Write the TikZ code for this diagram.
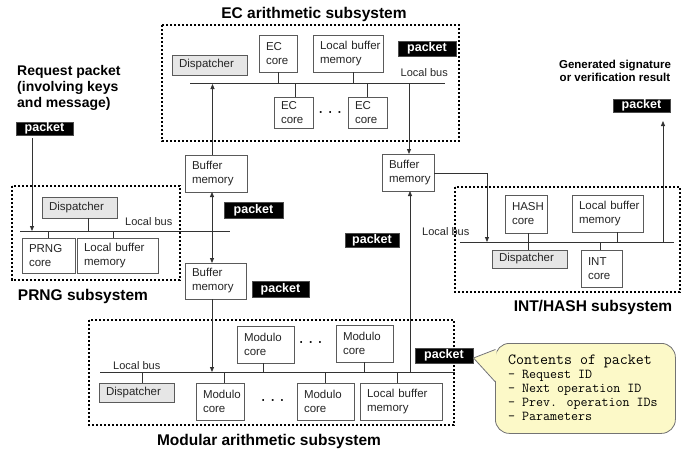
\documentclass[tikz,border=0pt]{standalone}
\usepackage{fontspec}
\setmainfont{Liberation Sans}
\usetikzlibrary{arrows.meta}

\definecolor{dispgray}{RGB}{230,230,230}
\definecolor{noteyellow}{RGB}{252,249,200}
\definecolor{boxline}{RGB}{90,90,90}

\begin{document}
\begin{tikzpicture}[x=1pt,y=-1pt,
  unit/.style={draw=boxline, line width=0.8pt, fill=white, text=black!85,
    inner xsep=7pt, inner ysep=0pt, outer sep=0pt, align=left, anchor=north west,
    font=\fontsize{11.5}{14}\selectfont},
  disp/.style={unit, fill=dispgray},
  pkt/.style={fill=black, draw=black!70, text=white, inner sep=0pt, outer sep=0pt,
    anchor=north west, font=\fontsize{12.5}{12.5}\selectfont\bfseries},
  subsys/.style={draw=black, line width=2.4pt, dash pattern=on 2.2pt off 1.8pt},
  title/.style={anchor=base, inner sep=0pt, font=\fontsize{15.5}{17}\selectfont\bfseries},
  buslabel/.style={anchor=base west, inner sep=0pt, text=black!85, font=\fontsize{11}{13}\selectfont},
  bus/.style={line width=0.8pt, draw=black!80},
  wire/.style={line width=0.8pt, draw=black!80},
  arr/.style={wire, -{Triangle[length=5pt,width=4pt]}},
  dots/.style={inner sep=0pt, font=\fontsize{12}{12}\selectfont\bfseries},
  mono/.style={anchor=base west, inner sep=0pt, font=\ttfamily}
]
\useasboundingbox (0,0) rectangle (691,450);

% ---------- subsystem frames ----------
\draw[subsys] (162,25) rectangle (459,141);
\draw[subsys] (12,186) rectangle (180,280);
\draw[subsys] (455,187) rectangle (680,292);
\draw[subsys] (89,320) rectangle (454,425);

\node[title] (ectitle) at (314,18.5) {EC arithmetic subsystem};
\node[title] (prtitle) at (83,300.5) {PRNG subsystem};
\node[title] (inttitle) at (593,311.5) {INT/HASH subsystem};
\node[title] (modtitle) at (269,445.5) {Modular arithmetic subsystem};

% ---------- buses ----------
\coordinate (ecbusW) at (190,83);   \coordinate (ecbusE) at (445,83);
\coordinate (prbusW) at (20,231);   \coordinate (prbusE) at (230,231);
\coordinate (intbusW) at (460,242); \coordinate (intbusE) at (674,242);
\coordinate (modbusW) at (100,372); \coordinate (modbusE) at (455,372);
\coordinate (intin) at (487,242);
\draw[bus] (ecbusW) -- (ecbusE);
\draw[bus] (prbusW) -- (prbusE);
\draw[bus] (intbusW) -- (intbusE);
\draw[bus] (modbusW) -- (modbusE);

\node[buslabel] (eclb) at (400.5,76) {Local bus};
\node[buslabel] (prlb) at (125,225) {Local bus};
\node[buslabel] (intlb) at (422,235) {Local bus};
\node[buslabel] (modlb) at (113,369.5) {Local bus};

% ---------- EC arithmetic subsystem ----------
\node[disp, text width=61pt, minimum height=20pt] (ecdisp) at (172,55) {Dispatcher};
\node[unit, text width=24pt, minimum height=37pt] (eccoreA) at (259,35) {EC\\core};
\node[unit, text width=56pt, minimum height=37pt] (eclbm) at (313,35) {Local~buffer\\memory};
\node[unit, text width=25pt, minimum height=31pt] (eccoreB) at (274,97) {EC\\core};
\node[unit, text width=25pt, minimum height=31pt] (eccoreC) at (348,97) {EC\\core};
\node[dots] (ecdots) at (330.5,114) {·\hspace{5.5pt}·\hspace{5.5pt}·};
\node[pkt, minimum width=58pt, minimum height=15pt] (ecpkt) at (398,41) {packet};

\draw[wire] (eccoreA.south) -- (eccoreA.south |- ecbusW);
\draw[wire] ([xshift=5pt]eclbm.south) -- ([xshift=5pt]eclbm.south |- ecbusW);
\draw[wire] ([xshift=1.5pt]eccoreB.north) -- ([xshift=1.5pt]eccoreB.north |- ecbusW);
\draw[wire] (eccoreC.north) -- (eccoreC.north |- ecbusW);

% ---------- buffer memories between subsystems ----------
\node[unit, text width=48pt, minimum height=37pt] (lbufA) at (185,155) {Buffer\\memory};
\node[unit, text width=47pt, minimum height=36pt] (lbufB) at (185,263) {Buffer\\memory};
\node[unit, text width=38pt, minimum height=37pt] (rbuf) at (382,154) {Buffer\\memory};

\node[pkt, minimum width=59pt, minimum height=16pt] (bpktA) at (224,202) {packet};
\node[pkt, minimum width=57pt, minimum height=16pt] (bpktB) at (252,281) {packet};
\node[pkt, minimum width=54pt, minimum height=14pt] (bpktC) at (345,233) {packet};

\draw[arr] ([xshift=-3.5pt]lbufA.north) -- ([xshift=-3.5pt,yshift=-1pt]lbufA.north |- ecbusW);
\draw[arr] ([xshift=1pt]rbuf.north |- ecbusW) -- ([xshift=1pt]rbuf.north);
\draw[wire, {Triangle[length=5pt,width=4pt]}-{Triangle[length=5pt,width=4pt]}]
  ([xshift=-4pt]lbufA.south) -- ([xshift=-3.5pt]lbufB.north);
\draw[arr] ([xshift=-3.5pt]lbufB.south) -- ([xshift=-3.5pt]lbufB.south |- modbusW);
\draw[arr] ([xshift=2pt]rbuf.south |- modbusW) -- ([xshift=2pt]rbuf.south);
\draw[arr] ([yshift=-1pt]rbuf.east) -| (intin);

% ---------- PRNG subsystem ----------
\node[disp, text width=61pt, minimum height=21pt] (prdisp) at (42,197) {Dispatcher};
\node[unit, text width=39pt, minimum height=35pt] (prcore) at (22,238) {PRNG\\core};
\node[unit, text width=67pt, minimum height=35pt] (prlbm) at (77,238) {Local~buffer\\memory};
\draw[wire] ([xshift=8.5pt]prdisp.south) -- ([xshift=8.5pt]prdisp.south |- prbusW);
\draw[wire] (prcore.north) -- (prcore.north |- prbusW);
\draw[wire] ([xshift=-4.5pt]prlbm.north) -- ([xshift=-4.5pt]prlbm.north |- prbusW);

\node[anchor=north west, inner sep=0pt, align=left,
  font=\fontsize{14}{16.2}\selectfont\bfseries] (reqtext) at (17,65)
  {Request packet\\(involving keys\\and message)};
\node[pkt, minimum width=57pt, minimum height=13pt] (reqpkt) at (16,122) {packet};
\draw[arr] ([xshift=-12.5pt,yshift=-3pt]reqpkt.south) -- ([xshift=-12.5pt]reqpkt.south |- prbusW);

% ---------- INT/HASH subsystem ----------
\node[unit, text width=28pt, minimum height=38pt] (hash) at (505,195) {HASH\\core};
\node[unit, text width=57pt, minimum height=37pt] (intlbm) at (572,195) {Local~buffer\\memory};
\node[disp, text width=61pt, minimum height=18pt] (intdisp) at (492,250) {Dispatcher};
\node[unit, text width=27pt, minimum height=37pt] (intcore) at (581,250) {INT\\core};
\draw[wire] ([xshift=2pt]hash.south) -- ([xshift=-1.5pt]intdisp.north);
\draw[wire] ([xshift=9.5pt]intlbm.south) -- ([xshift=9.5pt]intlbm.south |- intbusW);
\draw[wire] ([xshift=-1.5pt]intcore.north) -- ([xshift=-1.5pt]intcore.north |- intbusW);

\node[anchor=north, inner sep=0pt, align=center,
  font=\fontsize{11.5}{13.5}\selectfont\bfseries] (gentext) at (615,59.5)
  {Generated signature\\or verification result};
\node[pkt, minimum width=57pt, minimum height=13pt] (outpkt) at (613,99) {packet};
\draw[arr] ([xshift=21.5pt]outpkt.south |- intbusW) -- ([xshift=21.5pt,yshift=-9pt]outpkt.south);

% ---------- Modular arithmetic subsystem ----------
\node[disp, text width=61pt, minimum height=19pt] (moddisp) at (99,383) {Dispatcher};
\node[unit, text width=34pt, minimum height=37pt] (modB1) at (196,383) {Modulo\\core};
\node[unit, text width=43pt, minimum height=37pt] (modB2) at (297,383) {Modulo\\core};
\node[unit, text width=68pt, minimum height=37pt] (modlbm) at (360,383) {Local~buffer\\memory};
\node[unit, text width=43pt, minimum height=37pt] (modT1) at (237,326) {Modulo\\core};
\node[unit, text width=43pt, minimum height=37pt] (modT2) at (336,325) {Modulo\\core};
\node[dots] (moddotsB) at (273,402) {·\hspace{5.5pt}·\hspace{5.5pt}·};
\node[dots] (moddotsT) at (311,344) {·\hspace{5.5pt}·\hspace{5.5pt}·};

\draw[wire] ([xshift=5.5pt]moddisp.north) -- ([xshift=5.5pt]moddisp.north |- modbusW);
\draw[wire] ([xshift=4pt]modB1.north) -- ([xshift=4pt]modB1.north |- modbusW);
\draw[wire] (modB2.north) -- (modB2.north |- modbusW);
\draw[wire] ([xshift=-4pt]modlbm.north) -- ([xshift=-4pt]modlbm.north |- modbusW);
\draw[wire] ([xshift=-2.5pt]modT1.south) -- ([xshift=-2.5pt]modT1.south |- modbusW);
\draw[wire] (modT2.south) -- (modT2.south |- modbusW);

\node[pkt, minimum width=58pt, minimum height=15pt] (modpkt) at (415,348) {packet};

% ---------- note on packet contents ----------
\node[draw=black!55, line width=0.8pt, fill=noteyellow, rounded corners=14pt,
  anchor=north west, minimum width=180pt, minimum height=90pt, inner sep=0pt] (note) at (495,343) {};
\coordinate (tip) at (473.5,358);
\fill[noteyellow] (tip) -- (496.5,350) -- (496.5,382) -- cycle;
\draw[line width=0.8pt, draw=black!55] (495.4,349.5) -- (tip) -- (495.4,382);

\node[mono, font=\ttfamily\fontsize{15.5}{16}\selectfont] (nl1) at (508,364) {Contents of packet};
\node[mono, font=\ttfamily\fontsize{13.6}{14}\selectfont] (nl2) at (508,378.5) {- Request ID};
\node[mono, font=\ttfamily\fontsize{13.6}{14}\selectfont] (nl3) at (508,392.5) {- Next operation ID};
\node[mono, font=\ttfamily\fontsize{13.6}{14}\selectfont] (nl4) at (508,406.5) {- Prev. operation IDs};
\node[mono, font=\ttfamily\fontsize{13.6}{14}\selectfont] (nl5) at (508,420.5) {- Parameters};
\end{tikzpicture}
\end{document}
